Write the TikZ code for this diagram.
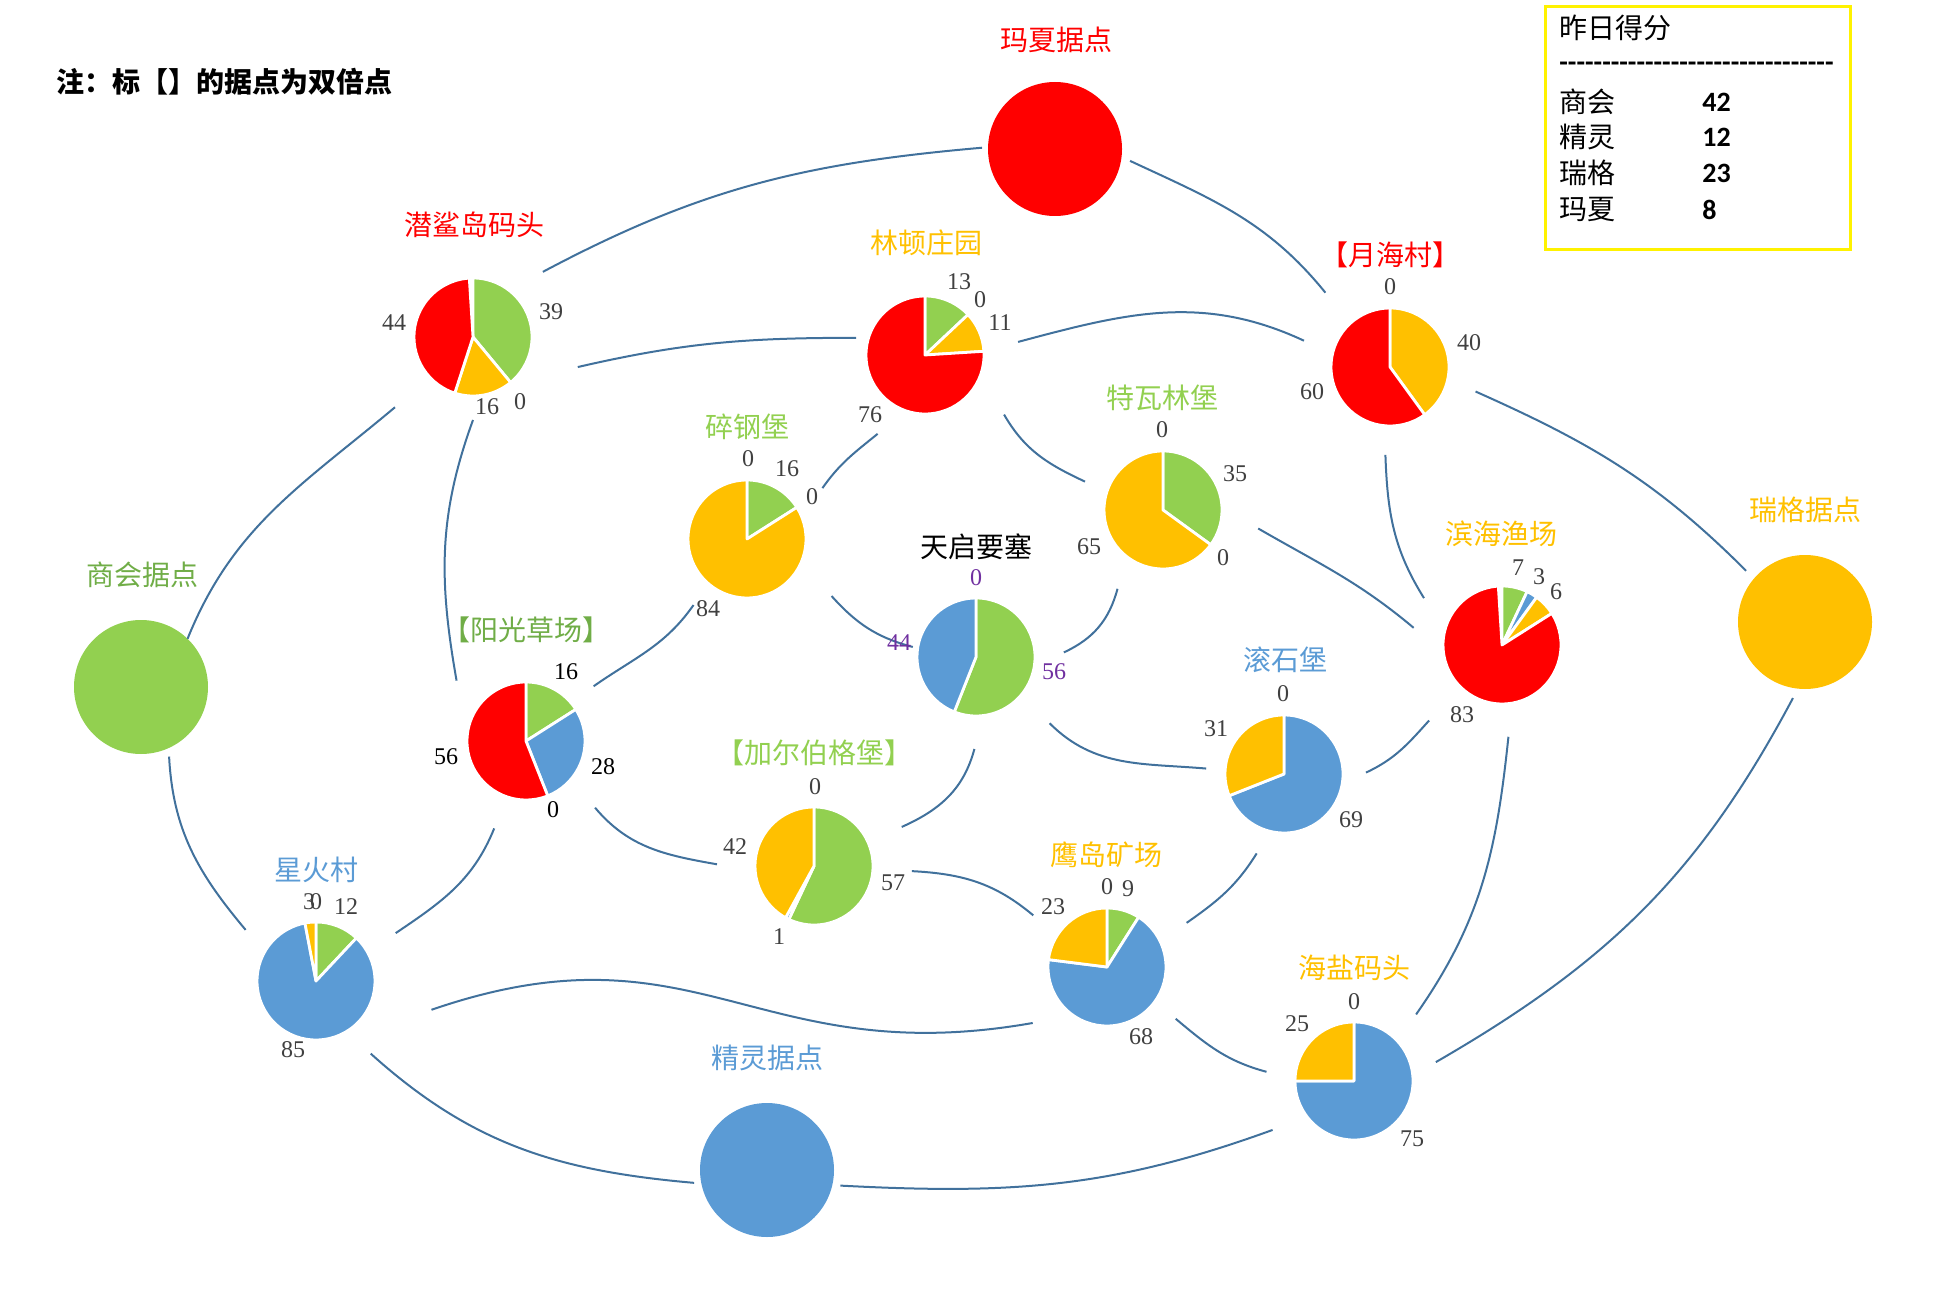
\documentclass[tikz,border=0pt]{standalone}
\usepackage{fontspec}
\setmainfont{Liberation Serif}
\newfontfamily\cjk{Noto Sans CJK SC}
\newfontfamily\legfont[Ligatures=TeXOff]{Carlito}
\usetikzlibrary{positioning}
\definecolor{cgreen}{HTML}{92D050}
\definecolor{dgreen}{HTML}{70AD47}
\definecolor{cblue}{HTML}{5B9BD5}
\definecolor{cyellow}{HTML}{FFC000}
\definecolor{cred}{HTML}{FF0000}
\definecolor{linkblue}{HTML}{41719C}
\definecolor{numgray}{HTML}{404040}
\definecolor{cpurple}{HTML}{7030A0}
% pie: name, centre, green, blue, yellow, red (percent, clockwise from top)
\newcommand{\piechart}[6]{%
  \node[pienode] (#1) at (#2) {};
  \gdef\pieang{90}%
  \foreach \v/\c in {#3/cgreen,#4/cblue,#5/cyellow,#6/cred}{%
    \pgfmathsetmacro\pieend{\pieang-3.6*\v}%
    \ifdim\v pt>0pt
      \filldraw[fill=\c,draw=white,line width=1.4pt,line join=round] (#1.center) -- ++(\pieang:29.5pt) arc[start angle=\pieang,end angle=\pieend,radius=29.5pt] -- cycle;
    \fi
    \global\let\pieang\pieend
  }}

\begin{document}
\begin{tikzpicture}[
 x=0.5pt,y=-0.5pt,
 link/.style={draw=linkblue,line width=1pt},
 pienode/.style={circle,minimum size=58pt,inner sep=0pt},
 base/.style={circle,minimum size=67pt,inner sep=0pt},
 lbl/.style={font=\cjk\fontsize{14}{16}\selectfont,inner sep=0pt},
 num/.style={font=\fontsize{12}{14}\selectfont,text=numgray,inner sep=0pt},
 pnum/.style={num,text=cpurple},
 legbox/.style={draw=yellow,line width=1.5pt,minimum width=152.5pt,minimum height=121.5pt,anchor=north west},
 legtxt/.style={lbl,anchor=west},
 legnum/.style={font=\legfont\bfseries\fontsize{14}{16}\selectfont,inner sep=0pt,anchor=west}]
\useasboundingbox (0,0) rectangle (1937,1294);
% bases
\node[base,fill=cred] (ms) at (1055,149) {};
\node[base,fill=cgreen] (sh) at (141,687) {};
\node[base,fill=cyellow] (rg) at (1805,622) {};
\node[base,fill=cblue] (jl) at (767,1170) {};
% strongholds
\piechart{qs}{473,337}{39}{0}{16}{44}
\piechart{ld}{925,355}{13}{0}{11}{76}
\piechart{yh}{1390,367}{0}{0}{40}{60}
\piechart{sg}{747,539}{16}{0}{84}{0}
\piechart{tw}{1163,510}{35}{0}{65}{0}
\piechart{tq}{976,657}{56}{44}{0}{0}
\piechart{yg}{526,741}{16}{28}{0}{56}
\piechart{je}{814,866}{57}{1}{42}{0}
\piechart{gs}{1284,774}{0}{69}{31}{0}
\piechart{bh}{1502,645}{7}{3}{6}{83}
\piechart{xh}{316,981}{12}{85}{3}{0}
\piechart{yd}{1107,967}{9}{68}{23}{0}
\piechart{hy}{1354,1081}{0}{75}{25}{0}
% roads
\draw[link] ([shift={(43:47.75pt)}]qs.center) to[out=28,in=185] ([shift={(179:36.5pt)}]ms.center);
\draw[link] ([shift={(-9:38pt)}]ms.center) to[out=-25,in=129] ([shift={(131:49.25pt)}]yh.center);
\draw[link] ([shift={(-16:54.5pt)}]qs.center) to[out=13,in=180] ([shift={(166:35.5pt)}]ld.center);
\draw[link] ([shift={(8:47pt)}]ld.center) to[out=15,in=155] ([shift={(163:45pt)}]yh.center);
\draw[link] ([shift={(-16:44.5pt)}]yh.center) to[out=-24,in=135] ([shift={(139:39pt)}]rg.center);
\draw[link] ([shift={(261:38.5pt)}]rg.center) to[out=242,in=30] ([shift={(13:42pt)}]hy.center);
\draw[link] ([shift={(46:33.5pt)}]sh.center) to[out=68,in=220] ([shift={(222:52.5pt)}]qs.center);
\draw[link] ([shift={(-68:37.5pt)}]sh.center) to[out=-87,in=130] ([shift={(144:43.5pt)}]xh.center);
\draw[link] ([shift={(-90:41.5pt)}]qs.center) to[out=-110,in=100] ([shift={(139:46pt)}]yg.center);
\draw[link] ([shift={(239:46pt)}]ld.center) to[out=219,in=55] ([shift={(34:45.5pt)}]sg.center);
\draw[link] ([shift={(-37:49.5pt)}]ld.center) to[out=-60,in=155] ([shift={(160:41.5pt)}]tw.center);
\draw[link] ([shift={(231:42.5pt)}]sg.center) to[out=235,in=35] ([shift={(39:43.5pt)}]yg.center);
\draw[link] ([shift={(-34:51pt)}]sg.center) to[out=-48,in=165] ([shift={(171:32pt)}]tq.center);
\draw[link] ([shift={(240:45.5pt)}]tw.center) to[out=255,in=25] ([shift={(3:44pt)}]tq.center);
\draw[link] ([shift={(-11:48.5pt)}]tw.center) to[out=-30,in=140] ([shift={(169:45pt)}]bh.center);
\draw[link] ([shift={(267:44pt)}]yh.center) to[out=-88,in=122] ([shift={(149:45.5pt)}]bh.center);
\draw[link] ([shift={(-42:49.5pt)}]tq.center) to[out=-45,in=175] ([shift={(176:39pt)}]gs.center);
\draw[link] ([shift={(269:46pt)}]tq.center) to[out=255,in=24] ([shift={(24:48pt)}]je.center);
\draw[link] ([shift={(-44:48pt)}]yg.center) to[out=-50,in=170] ([shift={(179:48.5pt)}]je.center);
\draw[link] ([shift={(250:46.5pt)}]yg.center) to[out=248,in=34] ([shift={(31:46.5pt)}]xh.center);
\draw[link] ([shift={(1:41pt)}]gs.center) to[out=25,in=228] ([shift={(226:52.5pt)}]bh.center);
\draw[link] ([shift={(251:42pt)}]gs.center) to[out=238,in=35] ([shift={(29:45.5pt)}]yd.center);
\draw[link] ([shift={(-3:49pt)}]je.center) to[out=-3,in=140] ([shift={(145:45pt)}]yd.center);
\draw[link] ([shift={(-14:59.5pt)}]xh.center) to[out=19,in=190,looseness=1.2] ([shift={(217:46.5pt)}]yd.center);
\draw[link] ([shift={(-53:45.5pt)}]xh.center) to[out=-42,in=175] ([shift={(190:37pt)}]jl.center);
\draw[link] ([shift={(-12:37.5pt)}]jl.center) to[out=-3,in=200] ([shift={(211:47.5pt)}]hy.center);
\draw[link] ([shift={(-37:43pt)}]yd.center) to[out=-40,in=165] ([shift={(174:44pt)}]hy.center);
\draw[link] ([shift={(274:46pt)}]bh.center) to[out=264,in=55] ([shift={(47:45.5pt)}]hy.center);
% names
\node[lbl,text=cred] (ms-n) at (1056,40) {玛夏据点};
\node[lbl,text=dgreen] (sh-n) at (142,575) {商会据点};
\node[lbl,text=cyellow] (rg-n) at (1805,510) {瑞格据点};
\node[lbl,text=cblue] (jl-n) at (767,1058) {精灵据点};
\node[lbl,text=cred] (qs-n) at (474,225) {潜鲨岛码头};
\node[lbl,text=cyellow] (ld-n) at (926,243) {林顿庄园};
\node[lbl,text=cred] (yh-n) at (1390,255) {【月海村】};
\node[lbl,text=cgreen] (sg-n) at (747,427) {碎钢堡};
\node[lbl,text=cgreen] (tw-n) at (1162,398) {特瓦林堡};
\node[lbl] (tq-n) at (976,547) {天启要塞};
\node[lbl,text=dgreen] (yg-n) at (526,630) {【阳光草场】};
\node[lbl,text=cgreen] (je-n) at (814,753) {【加尔伯格堡】};
\node[lbl,text=cblue] (gs-n) at (1285,660) {滚石堡};
\node[lbl,text=cyellow] (bh-n) at (1501,534) {滨海渔场};
\node[lbl,text=cblue] (xh-n) at (316,870) {星火村};
\node[lbl,text=cyellow] (yd-n) at (1106,855) {鹰岛矿场};
\node[lbl,text=cyellow] (hy-n) at (1354,968) {海盐码头};
% shares
\node[num] (qs-1) at (551,312) {39}; \node[num] (qs-2) at (520,402) {0};
\node[num] (qs-3) at (487,407) {16}; \node[num] (qs-4) at (394,323) {44};
\node[num] (ld-1) at (959,282) {13}; \node[num] (ld-2) at (980,300) {0};
\node[num] (ld-3) at (1000,323) {11}; \node[num] (ld-4) at (870,415) {76};
\node[num] (yh-1) at (1390,287) {0}; \node[num] (yh-3) at (1469,343) {40};
\node[num] (yh-4) at (1312,392) {60};
\node[num] (sg-4) at (748,459) {0}; \node[num] (sg-1) at (787,469) {16};
\node[num] (sg-2) at (812,497) {0}; \node[num] (sg-3) at (708,609) {84};
\node[num] (tw-4) at (1162,430) {0}; \node[num] (tw-1) at (1235,474) {35};
\node[num] (tw-2) at (1223,558) {0}; \node[num] (tw-3) at (1089,547) {65};
\node[pnum] (tq-4) at (976,578) {0}; \node[pnum] (tq-1) at (1054,672) {56};
\node[pnum] (tq-2) at (899,643) {44};
\node[num,text=black] (yg-1) at (566,672) {16}; \node[num,text=black] (yg-2) at (603,767) {28};
\node[num,text=black] (yg-3) at (553,810) {0}; \node[num,text=black] (yg-4) at (446,757) {56};
\node[num] (je-4) at (815,787) {0}; \node[num] (je-1) at (893,883) {57};
\node[num] (je-2) at (779,937) {1}; \node[num] (je-3) at (735,847) {42};
\node[num] (gs-4) at (1283,694) {0}; \node[num] (gs-2) at (1351,820) {69};
\node[num] (gs-3) at (1216,729) {31};
\node[num] (bh-1) at (1518,568) {7}; \node[num] (bh-2) at (1539,577) {3};
\node[num] (bh-3) at (1556,592) {6}; \node[num] (bh-4) at (1462,715) {83};
\node[num] (xh-3) at (309,902) {3}; \node[num] (xh-4) at (316,902) {0};
\node[num] (xh-1) at (346,907) {12}; \node[num] (xh-2) at (293,1050) {85};
\node[num] (yd-4) at (1107,887) {0}; \node[num] (yd-1) at (1128,889) {9};
\node[num] (yd-3) at (1053,907) {23}; \node[num] (yd-2) at (1141,1037) {68};
\node[num] (hy-4) at (1354,1002) {0}; \node[num] (hy-3) at (1297,1024) {25};
\node[num] (hy-2) at (1412,1139) {75};
% note and legend
\node[lbl,anchor=west,font=\cjk\bfseries\fontsize{14}{16}\selectfont] (note) at (56,82) {注：标【】的据点为双倍点};
\node[legbox] (legend) at (1544,5) {};
\node[legtxt] (leg-t) at (1559,28) {昨日得分};
\node[legnum] (leg-d) at (1559,67) {--------------------------------};
\node[legtxt] (leg-a) at (1559,102) {商会}; \node[legnum] (leg-av) at (1702,102) {42};
\node[legtxt] (leg-b) at (1559,137) {精灵}; \node[legnum] (leg-bv) at (1702,137) {12};
\node[legtxt] (leg-c) at (1559,173) {瑞格}; \node[legnum] (leg-cv) at (1702,173) {23};
\node[legtxt] (leg-e) at (1559,210) {玛夏}; \node[legnum] (leg-ev) at (1702,210) {8};
\end{tikzpicture}
\end{document}
